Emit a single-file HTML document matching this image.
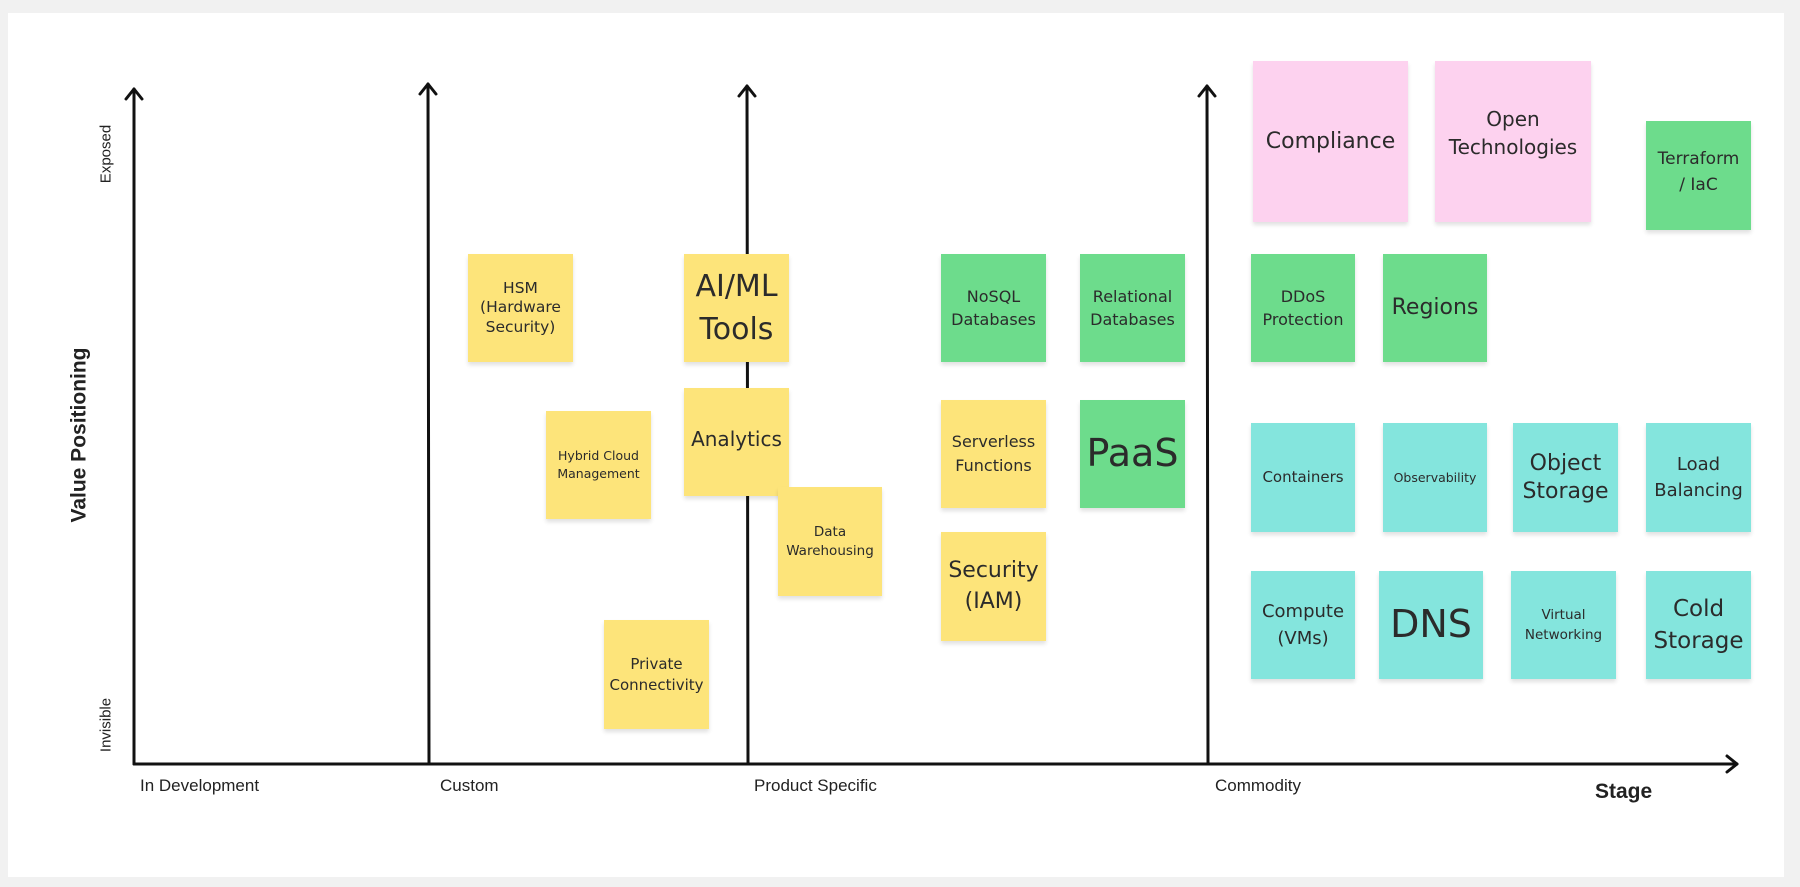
<!DOCTYPE html>
<html><head><meta charset="utf-8"><style>
html,body{margin:0;padding:0}
body{width:1800px;height:887px;background:#f1f1f1;position:relative;overflow:hidden;font-family:"Liberation Sans",sans-serif}
.card{position:absolute;left:8px;top:13px;width:1776px;height:864px;background:#fff}
.s{position:absolute;display:flex;align-items:center;justify-content:center;text-align:center;color:#2b2b2b;line-height:1.25;box-shadow:0 3px 4px rgba(0,0,0,0.12);font-family:"DejaVu Sans","Liberation Sans",sans-serif;box-sizing:border-box;padding:0 4px}
.y{background:#fde47a}
.g{background:#6ddc8c}
.t{background:#84e5dd}
.p{background:#fdd2ef}
.lab{position:absolute;font-size:17px;color:#222;line-height:1}
.rot{position:absolute;transform:translate(-50%,-50%) rotate(-90deg);white-space:nowrap;color:#222;line-height:1}
</style></head><body>
<div class="card"></div>
<svg width="1800" height="887" style="position:absolute;left:0;top:0">
<g stroke="#111" stroke-width="3" fill="none" stroke-linecap="round" stroke-linejoin="round">
<line x1="134" y1="764" x2="134" y2="89"/><polyline points="126,99 134,89 142,99"/>
<line x1="429" y1="764" x2="428" y2="84"/><polyline points="420,94 428,84 436,94"/>
<line x1="748" y1="764" x2="747" y2="86"/><polyline points="739,96 747,86 755,96"/>
<line x1="1208" y1="764" x2="1207" y2="86"/><polyline points="1199,96 1207,86 1215,96"/>
<line x1="134" y1="764" x2="1737" y2="764"/><polyline points="1727,756 1737,764 1727,772"/>
</g></svg>
<div class="lab" style="left:140px;top:777px">In Development</div>
<div class="lab" style="left:440px;top:777px">Custom</div>
<div class="lab" style="left:754px;top:777px">Product Specific</div>
<div class="lab" style="left:1215px;top:777px">Commodity</div>
<div class="lab" style="left:1595px;top:781px;font-size:21px;font-weight:bold">Stage</div>
<div class="rot" style="left:79px;top:435px;font-size:21px;font-weight:bold">Value Positioning</div>
<div class="rot" style="left:106px;top:154px;font-size:15px">Exposed</div>
<div class="rot" style="left:106px;top:725px;font-size:15px">Invisible</div>

<div class="s y" style="left:468px;top:254px;width:105px;height:108px;font-size:15.5px">HSM<br>(Hardware<br>Security)</div>
<div class="s y" style="left:684px;top:254px;width:105px;height:108px;font-size:30px;line-height:1.45">AI/ML<br>Tools</div>
<div class="s y" style="left:546px;top:411px;width:105px;height:108px;font-size:12.5px;line-height:1.45">Hybrid Cloud<br>Management</div>
<div class="s y" style="left:684px;top:388px;width:105px;height:108px;font-size:20px;padding-bottom:6px">Analytics</div>
<div class="s y" style="left:778px;top:487px;width:104px;height:109px;font-size:13.5px;line-height:1.4">Data<br>Warehousing</div>
<div class="s y" style="left:604px;top:620px;width:105px;height:109px;font-size:15px;line-height:1.4">Private<br>Connectivity</div>

<div class="s g" style="left:941px;top:254px;width:105px;height:108px;font-size:16px;line-height:1.45">NoSQL<br>Databases</div>
<div class="s g" style="left:1080px;top:254px;width:105px;height:108px;font-size:16px;line-height:1.45">Relational<br>Databases</div>
<div class="s y" style="left:941px;top:400px;width:105px;height:108px;font-size:16px;line-height:1.5">Serverless<br>Functions</div>
<div class="s g" style="left:1080px;top:400px;width:105px;height:108px;font-size:38px">PaaS</div>
<div class="s y" style="left:941px;top:532px;width:105px;height:109px;font-size:22px;line-height:1.4">Security<br>(IAM)</div>

<div class="s p" style="left:1253px;top:61px;width:155px;height:161px;font-size:22px;padding-bottom:0px">Compliance</div>
<div class="s p" style="left:1435px;top:61px;width:156px;height:161px;font-size:20px;padding-bottom:18px;line-height:1.4">Open<br>Technologies</div>
<div class="s g" style="left:1646px;top:121px;width:105px;height:109px;font-size:17px;line-height:1.5;padding-bottom:6px">Terraform<br>/ IaC</div>
<div class="s g" style="left:1251px;top:254px;width:104px;height:108px;font-size:16px;line-height:1.45">DDoS<br>Protection</div>
<div class="s g" style="left:1383px;top:254px;width:104px;height:108px;font-size:22px">Regions</div>

<div class="s t" style="left:1251px;top:423px;width:104px;height:109px;font-size:15px">Containers</div>
<div class="s t" style="left:1383px;top:423px;width:104px;height:109px;font-size:12.5px">Observability</div>
<div class="s t" style="left:1513px;top:423px;width:105px;height:109px;font-size:22px">Object<br>Storage</div>
<div class="s t" style="left:1646px;top:423px;width:105px;height:109px;font-size:18px;line-height:1.4">Load<br>Balancing</div>

<div class="s t" style="left:1251px;top:571px;width:104px;height:108px;font-size:18px;line-height:1.5">Compute<br>(VMs)</div>
<div class="s t" style="left:1379px;top:571px;width:104px;height:108px;font-size:38px">DNS</div>
<div class="s t" style="left:1511px;top:571px;width:105px;height:108px;font-size:13.5px;line-height:1.5">Virtual<br>Networking</div>
<div class="s t" style="left:1646px;top:571px;width:105px;height:108px;font-size:23px;line-height:1.4">Cold<br>Storage</div>
</body></html>
